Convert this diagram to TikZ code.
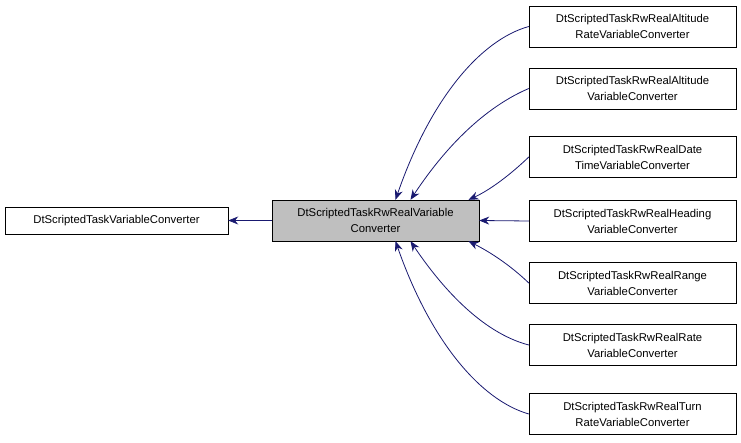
\documentclass[tikz,border=0pt]{standalone}
\usepackage{fontspec}
\setmainfont{Liberation Sans}
\usetikzlibrary{arrows.meta}
\begin{document}
\begin{tikzpicture}[x=1pt,y=-1pt,
  box/.style={draw=black,fill=white,minimum width=207pt,minimum height=41pt,align=center,inner sep=1pt,font=\fontsize{11.3}{16}\selectfont},
  arr/.style={draw={rgb,255:red,25;green,25;blue,112},line width=0.8pt,{Stealth[length=10pt,width=8pt]}-}]
\useasboundingbox (0,0) rectangle (741,443);
\node[box,minimum width=223pt,minimum height=27pt] (base) at (116.5,220.5) {DtScriptedTaskVariableConverter};
\node[box,fill={rgb,255:red,191;green,191;blue,191}] (mid) at (375.5,220.5) {DtScriptedTaskRwRealVariable\\Converter};
\node[box] (n1) at (632.5,26.5) {DtScriptedTaskRwRealAltitude\\RateVariableConverter};
\node[box] (n2) at (632.5,88.5) {DtScriptedTaskRwRealAltitude\\VariableConverter};
\node[box] (n3) at (632.5,157) {DtScriptedTaskRwRealDate\\TimeVariableConverter};
\node[box] (n4) at (632.5,221) {DtScriptedTaskRwRealHeading\\VariableConverter};
\node[box] (n5) at (632.5,283) {DtScriptedTaskRwRealRange\\VariableConverter};
\node[box] (n6) at (632.5,345) {DtScriptedTaskRwRealRate\\VariableConverter};
\node[box] (n7) at (632.5,414) {DtScriptedTaskRwRealTurn\\RateVariableConverter};
\draw[arr] (base.east) -- (mid.west);
\draw[arr] ([xshift=20pt]mid.north) .. controls (430,100) and (480,40) .. (n1.west);
\draw[arr] ([xshift=35pt]mid.north) .. controls (450,140) and (490,105) .. (n2.west);
\draw[arr] ([xshift=93pt]mid.north) .. controls (490,190) and (510,175) .. (n3.west);
\draw[arr] (mid.east) -- (n4.west);
\draw[arr] ([xshift=93pt]mid.south) .. controls (490,252) and (510,265) .. (n5.west);
\draw[arr] ([xshift=35pt]mid.south) .. controls (450,300) and (490,335) .. (n6.west);
\draw[arr] ([xshift=20pt]mid.south) .. controls (430,340) and (480,400) .. (n7.west);
\end{tikzpicture}
\end{document}
